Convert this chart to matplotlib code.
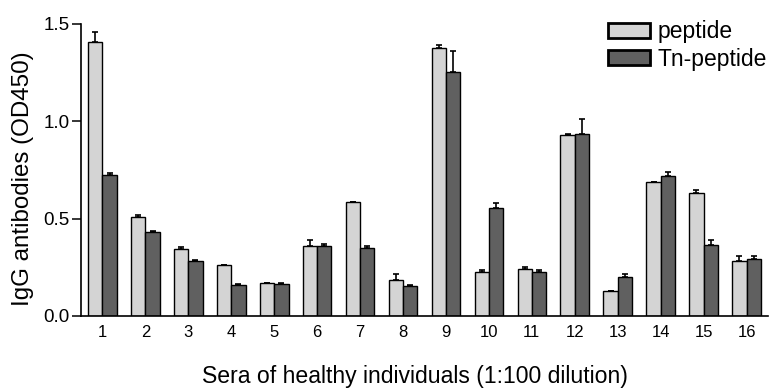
import matplotlib
matplotlib.use("Agg")
import matplotlib.pyplot as plt
from matplotlib.patches import Patch
import numpy as np

plt.rcParams['font.family'] = ['Liberation Sans', 'DejaVu Sans']

sera = [str(i) for i in range(1, 17)]
peptide = [1.406, 0.508, 0.344, 0.260, 0.168, 0.361, 0.584, 0.185,
           1.375, 0.228, 0.241, 0.928, 0.127, 0.687, 0.632, 0.284]
peptide_err = [0.051, 0.011, 0.009, 0.003, 0.002, 0.029, 0.003, 0.032,
               0.019, 0.008, 0.012, 0.009, 0.0, 0.003, 0.014, 0.023]
tn_peptide = [0.724, 0.433, 0.284, 0.161, 0.163, 0.358, 0.348, 0.154,
              1.252, 0.555, 0.224, 0.935, 0.200, 0.717, 0.363, 0.293]
tn_err = [0.012, 0.004, 0.003, 0.002, 0.007, 0.012, 0.010, 0.004,
          0.111, 0.027, 0.011, 0.078, 0.017, 0.021, 0.027, 0.014]
yticks = [0.0, 0.5, 1.0, 1.5]
ytick_labels = ['0.0', '0.5', '1.0', '1.5']

c_pep = '#d4d4d4'
c_tn = '#606060'

fig = plt.figure(figsize=(7.71, 3.90), dpi=100)
ax = fig.add_axes([81/771, (390-316)/390, (768-81)/771, (316-24)/390])

x = np.arange(1, len(sera) + 1)
w = 0.333
ax.bar(x - w/2, peptide, w, color=c_pep, edgecolor='black', linewidth=1.0, zorder=2)
ax.bar(x + w/2, tn_peptide, w, color=c_tn, edgecolor='black', linewidth=1.0, zorder=2)
ax.errorbar(x - w/2, peptide, yerr=[np.zeros(len(x)), peptide_err], fmt='none',
            ecolor='black', elinewidth=1.2, capsize=2.5, capthick=1.2, zorder=3)
ax.errorbar(x + w/2, tn_peptide, yerr=[np.zeros(len(x)), tn_err], fmt='none',
            ecolor='black', elinewidth=1.2, capsize=2.5, capthick=1.2, zorder=3)

ax.set_xlim(0.5, 16.5)
ax.set_ylim(0, 1.5)
ax.set_xticks(x)
ax.set_xticklabels(sera, fontsize=12)
ax.set_yticks(yticks)
ax.set_yticklabels(ytick_labels, fontsize=13.5)
ax.tick_params(axis='x', length=0, pad=6.5)
ax.tick_params(axis='y', length=6.5, width=1.1, direction='out', pad=1.5)
for s in ['top', 'right']:
    ax.spines[s].set_visible(False)
for s in ['left', 'bottom']:
    ax.spines[s].set_linewidth(1.2)

ax.set_ylabel('IgG antibodies (OD450)', fontsize=17.4)
ax.yaxis.label.set_rotation_mode('default')
ax.yaxis.label.set_va('center')
ax.yaxis.label.set_ha('center')
ax.yaxis.set_label_coords(-0.0837, 0.469)

ax.set_xlabel('Sera of healthy individuals (1:100 dilution)', fontsize=16.6)
ax.xaxis.label.set_va('baseline')
ax.xaxis.set_label_coords(0.486, -0.2295)

handles = [Patch(facecolor=c_pep, edgecolor='black', linewidth=2.0, label='peptide'),
           Patch(facecolor=c_tn, edgecolor='black', linewidth=2.0, label='Tn-peptide')]
ax.legend(handles=handles, loc='upper right', bbox_to_anchor=(0.999, 1.012),
          frameon=False, fontsize=16.5, handlelength=1.85, handleheight=0.6,
          handletextpad=0.33, labelspacing=0.18, borderaxespad=0.0, borderpad=0.0)

fig.savefig('out.png', dpi=100)
